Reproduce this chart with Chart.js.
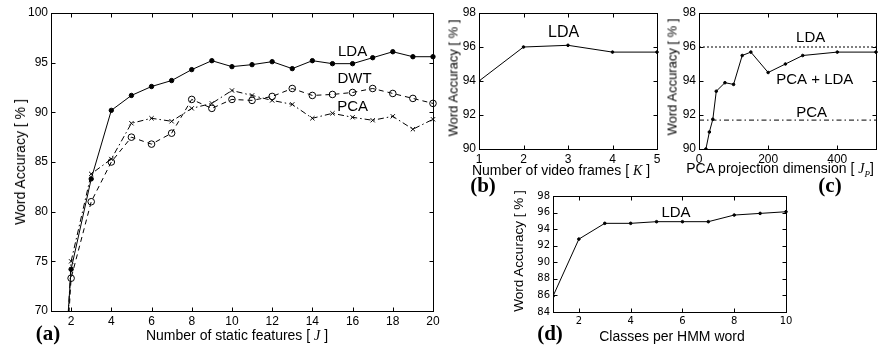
<!DOCTYPE html>
<html>
<head>
<meta charset="utf-8">
<script src="https://cdn.jsdelivr.net/npm/chart.js@4.4.1/dist/chart.umd.min.js"></script>
<style>
body{margin:0;background:#fff;width:881px;height:347px;position:relative;overflow:hidden;font-family:"Liberation Sans",Arial,sans-serif;color:#000}
canvas{position:absolute}
.t{position:absolute;white-space:nowrap;transform:translate(-50%,-50%);font-size:14px;line-height:1}
.v{transform:translate(-50%,-50%) rotate(-90deg)}
.p{font-family:"Liberation Serif",serif;font-weight:bold;font-size:21px}
.j{font-family:"Liberation Serif",serif;font-style:italic}
</style>
</head>
<body>
<canvas id="chartA" width="422" height="324" style="left:21px;top:5px"></canvas>
<canvas id="chartB" width="214" height="162" style="left:449px;top:5px"></canvas>
<canvas id="chartC" width="212" height="162" style="left:669px;top:5px"></canvas>
<canvas id="chartD" width="273" height="142" style="left:523px;top:188px"></canvas>

<div class="t v" style="left:20px;top:162px">Word Accuracy [ % ]</div>
<div class="t" style="left:237px;top:335px">Number of static features [ <span class="j">J</span> ]</div>
<div class="t p" style="left:48px;top:333px">(a)</div>

<div class="t v" style="left:453px;top:78px;font-size:13px">Word Accuracy [ % ]</div>
<div class="t" style="left:561px;top:170px">Number of video frames [ <span class="j">K</span> ]</div>
<div class="t p" style="left:483px;top:185px">(b)</div>

<div class="t v" style="left:672px;top:77px;font-size:13px">Word Accuracy [ % ]</div>
<div class="t" style="left:780px;top:170px">PCA projection dimension [ <span class="j">J<sub style="font-size:9px">P</sub></span>]</div>
<div class="t p" style="left:830px;top:185px">(c)</div>

<div class="t v" style="left:519px;top:251px;font-size:13.5px">Word Accuracy [ % ]</div>
<div class="t" style="left:672px;top:336px">Classes per HMM word</div>
<div class="t p" style="left:550px;top:333px">(d)</div>

<script>
Chart.defaults.animation = false;
Chart.defaults.font.family = '"Liberation Sans", Arial, sans-serif';
Chart.defaults.color = '#000';

// (a) number of static features J
const featX = [1, 2, 3, 4, 5, 6, 7, 8, 9, 10, 11, 12, 13, 14, 15, 16, 17, 18, 19, 20];
const ldaA = [44, 74.2, 83.3, 90.2, 91.7, 92.6, 93.2, 94.3, 95.2, 94.6, 94.8, 95.1, 94.4, 95.2, 94.9, 94.9, 95.5, 96.1, 95.6, 95.6];
const dwtA = [40, 73.3, 81.0, 85.0, 87.5, 86.8, 87.9, 91.3, 90.4, 91.3, 91.2, 91.6, 92.4, 91.7, 91.8, 92.0, 92.4, 91.9, 91.4, 90.9];
const pcaA = [37, 75.0, 83.8, 85.3, 88.9, 89.4, 89.1, 90.4, 90.9, 92.2, 91.7, 91.2, 90.8, 89.4, 89.9, 89.5, 89.2, 89.6, 88.3, 89.3];
const featTicks = [2, 4, 6, 8, 10, 12, 14, 16, 18, 20];
const accTicksA = [70, 75, 80, 85, 90, 95, 100];

// (b) number of video frames K
const framesX = [1, 2, 3, 4, 5];
const ldaB = [94.0, 96.0, 96.1, 95.7, 95.7];
const framesTicks = [1, 2, 3, 4, 5];
const accTicksB = [90, 92, 94, 96, 98];

// (c) PCA projection dimension Jp
const projX = [20, 30, 40, 50, 75, 100, 125, 150, 200, 250, 300, 400, 512];
const pcaLdaC = [90.0, 91.0, 91.75, 93.4, 93.9, 93.8, 95.5, 95.7, 94.5, 95.0, 95.5, 95.7, 95.7];
const ldaRefC = 96.0;
const pcaRefC = 91.7;
const projTicks = [0, 200, 400];
const accTicksC = [90, 92, 94, 96, 98];

// (d) classes per HMM word
const classesX = [1, 2, 3, 4, 5, 6, 7, 8, 9, 10];
const ldaD = [85.9, 92.8, 94.7, 94.7, 94.9, 94.9, 94.9, 95.7, 95.9, 96.1];
const classesTicks = [2, 4, 6, 8, 10];
const accTicksD = [84, 86, 88, 90, 92, 94, 96, 98];

function pts(xs, ys) {
    return xs.map((x, i) => ({x: x, y: ys[i]}));
}

function noPad(s) {
    s.paddingLeft = 0; s.paddingRight = 0; s.paddingTop = 0; s.paddingBottom = 0;
}

//matlab-like axes: box, inward ticks on all sides
function axes(xMin, xMax, xTicks, yMin, yMax, yTicks, font) {
    return {
        x: {
            type: 'linear', min: xMin, max: xMax,
            afterBuildTicks: s => { s.ticks = xTicks.map(v => ({value: v})); },
            afterFit: s => { s.height = 18; noPad(s); },
            ticks: {padding: 3, font: font, color: '#000', maxRotation: 0, autoSkip: false},
            grid: {display: false, drawTicks: false},
            border: {display: false}
        },
        y: {
            type: 'linear', min: yMin, max: yMax,
            afterBuildTicks: s => { s.ticks = yTicks.map(v => ({value: v})); },
            afterFit: s => { s.width = 30; noPad(s); },
            ticks: {padding: 3, font: font, color: '#000', autoSkip: false},
            grid: {display: false, drawTicks: false},
            border: {display: false}
        }
    };
}

function boxPlugin(notes, noteFont) {
    return {
        id: 'box',
        afterDraw(chart) {
            const ctx = chart.ctx, a = chart.chartArea;
            const sx = chart.scales.x, sy = chart.scales.y;
            const L = Math.round(a.left) + 0.5, R = Math.round(a.right) + 0.5;
            const T = Math.round(a.top) + 0.5, B = Math.round(a.bottom) + 0.5;
            ctx.save();
            ctx.setLineDash([]);
            ctx.strokeStyle = '#000';
            ctx.lineWidth = 1;
            ctx.strokeRect(L, T, R - L, B - T);
            ctx.beginPath();
            sx.ticks.forEach(t => {
                const px = Math.round(sx.getPixelForValue(t.value)) + 0.5;
                ctx.moveTo(px, B); ctx.lineTo(px, B - 4);
                ctx.moveTo(px, T); ctx.lineTo(px, T + 4);
            });
            sy.ticks.forEach(t => {
                const py = Math.round(sy.getPixelForValue(t.value)) + 0.5;
                ctx.moveTo(L, py); ctx.lineTo(L + 4, py);
                ctx.moveTo(R, py); ctx.lineTo(R - 4, py);
            });
            ctx.stroke();
            ctx.fillStyle = '#000';
            ctx.font = noteFont;
            ctx.textAlign = 'center';
            ctx.textBaseline = 'middle';
            notes.forEach(n => ctx.fillText(n.text, sx.getPixelForValue(n.x), sy.getPixelForValue(n.y)));
            ctx.restore();
        }
    };
}

const baseOptions = {
    responsive: false,
    plugins: {legend: {display: false}, tooltip: {enabled: false}},
    elements: {line: {tension: 0, borderWidth: 1, borderColor: '#000'}}
};

function opts(right, scales) {
    const o = Object.assign({}, baseOptions);
    o.layout = {autoPadding: false, padding: {top: 8, left: 0, bottom: 0, right: right}};
    o.scales = scales;
    return o;
}

const tickFont = {size: 12};
const clipEdge = {left: 0, top: 5, right: 5, bottom: 0};

//(a)
var chartA = new Chart(document.getElementById('chartA'), {
    type: 'line',
    data: {
        datasets: [{
            label: 'LDA',
            data: pts(featX, ldaA),
            borderColor: '#000', borderWidth: 1,
            pointStyle: 'circle', pointRadius: 2.2,
            pointBackgroundColor: '#000', pointBorderColor: '#000',
            clip: clipEdge
        }, {
            label: 'DWT',
            data: pts(featX, dwtA),
            borderColor: '#000', borderWidth: 1, borderDash: [5, 4],
            pointStyle: 'circle', pointRadius: 3.3, pointBorderWidth: 1,
            pointBackgroundColor: 'rgba(0,0,0,0)', pointBorderColor: '#000',
            clip: clipEdge
        }, {
            label: 'PCA',
            data: pts(featX, pcaA),
            borderColor: '#000', borderWidth: 1, borderDash: [6, 3, 1.5, 3],
            pointStyle: 'crossRot', pointRadius: 3, pointBorderWidth: 1,
            pointBorderColor: '#000',
            clip: clipEdge
        }]
    },
    options: opts(10, axes(1, 20, featTicks, 70, 100, accTicksA, tickFont)),
    plugins: [boxPlugin([
        {text: 'LDA', x: 16, y: 96.1},
        {text: 'DWT', x: 16.1, y: 93.35},
        {text: 'PCA', x: 16, y: 90.6}
    ], '15px "Liberation Sans", Arial, sans-serif')]
});

//(b)
var chartB = new Chart(document.getElementById('chartB'), {
    type: 'line',
    data: {
        datasets: [{
            label: 'LDA',
            data: pts(framesX, ldaB),
            borderColor: '#000', borderWidth: 1,
            pointRadius: 1.3, pointBackgroundColor: '#000', pointBorderColor: '#000',
            clip: clipEdge
        }]
    },
    options: opts(6, axes(1, 5, framesTicks, 90, 98, accTicksB, tickFont)),
    plugins: [boxPlugin([
        {text: 'LDA', x: 2.9, y: 96.83}
    ], '16px "Liberation Sans", Arial, sans-serif')]
});

//(c)
var chartC = new Chart(document.getElementById('chartC'), {
    type: 'line',
    data: {
        datasets: [{
            label: 'PCA + LDA',
            data: pts(projX, pcaLdaC),
            borderColor: '#000', borderWidth: 1,
            pointRadius: 1.3, pointBackgroundColor: '#000', pointBorderColor: '#000',
            clip: clipEdge
        }, {
            label: 'LDA',
            data: [{x: 0, y: ldaRefC}, {x: 512, y: ldaRefC}],
            borderColor: '#000', borderWidth: 1, borderDash: [2, 2],
            pointRadius: 0
        }, {
            label: 'PCA',
            data: [{x: 0, y: pcaRefC}, {x: 512, y: pcaRefC}],
            borderColor: '#000', borderWidth: 1, borderDash: [5, 3, 1.5, 3],
            pointRadius: 0
        }]
    },
    options: opts(5, axes(0, 512, projTicks, 90, 98, accTicksC, tickFont)),
    plugins: [boxPlugin([
        {text: 'LDA', x: 323, y: 96.54},
        {text: 'PCA + LDA', x: 335, y: 94.08},
        {text: 'PCA', x: 326, y: 92.15}
    ], '15px "Liberation Sans", Arial, sans-serif')]
});

//(d)
var chartD = new Chart(document.getElementById('chartD'), {
    type: 'line',
    data: {
        datasets: [{
            label: 'LDA',
            data: pts(classesX, ldaD),
            borderColor: '#000', borderWidth: 1,
            pointRadius: 1.3, pointBackgroundColor: '#000', pointBorderColor: '#000',
            clip: clipEdge
        }]
    },
    options: opts(10, axes(1, 10, classesTicks, 84, 98, accTicksD, {family: '"DejaVu Sans", sans-serif', size: 10})),
    plugins: [boxPlugin([
        {text: 'LDA', x: 5.75, y: 95.96}
    ], '15px "Liberation Sans", Arial, sans-serif')]
});
</script>
</body>
</html>
